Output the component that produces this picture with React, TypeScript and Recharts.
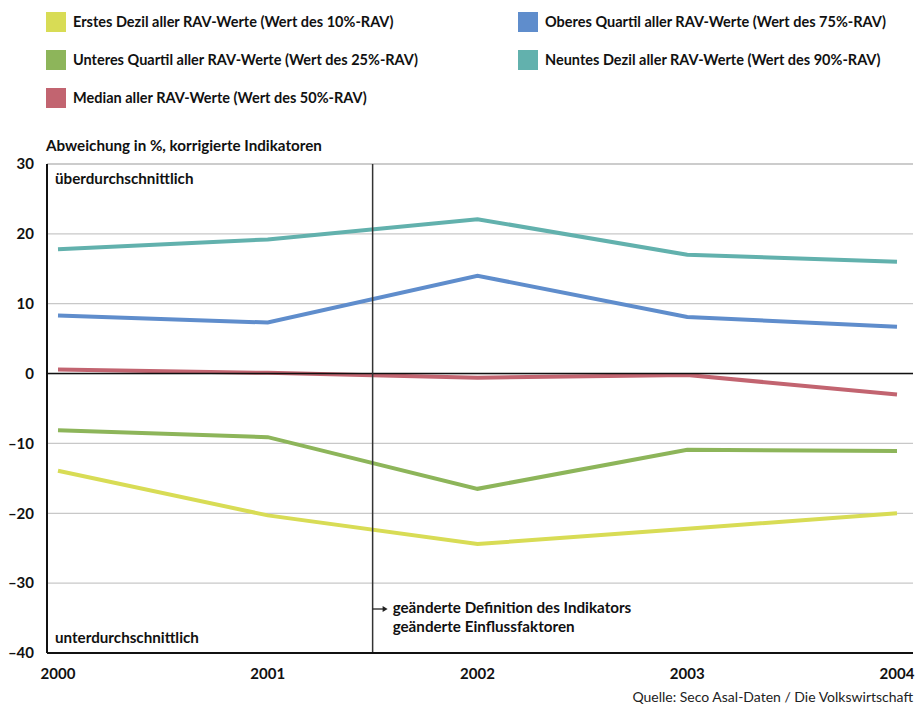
import React from "react";
import {
  LineChart,
  Line,
  XAxis,
  YAxis,
  CartesianGrid,
  ReferenceLine,
} from "recharts";

const years = [2000, 2001, 2002, 2003, 2004];
const p10 = [-13.9, -20.3, -24.4, -22.2, -20.0];
const p25 = [-8.1, -9.1, -16.5, -10.9, -11.1];
const p50 = [0.6, 0.1, -0.6, -0.2, -3.0];
const p75 = [8.3, 7.3, 14.0, 8.1, 6.7];
const p90 = [17.8, 19.2, 22.1, 17.0, 16.0];
const yTicks = [-40, -30, -20, -10, 0, 10, 20, 30];
const breakYear = 2001.5;

const seriesNames = {
  p10: "Erstes Dezil aller RAV-Werte (Wert des 10%-RAV)",
  p25: "Unteres Quartil aller RAV-Werte (Wert des 25%-RAV)",
  p50: "Median aller RAV-Werte (Wert des 50%-RAV)",
  p75: "Oberes Quartil aller RAV-Werte (Wert des 75%-RAV)",
  p90: "Neuntes Dezil aller RAV-Werte (Wert des 90%-RAV)",
};
const colors = {
  p10: "#d8dc55",
  p25: "#8db55a",
  p50: "#c26470",
  p75: "#5f8dcc",
  p90: "#62b1ad",
};
const legendOrder = ["p10", "p25", "p50", "p75", "p90"];

const data = years.map((year, i) => ({
  year,
  p10: p10[i],
  p25: p25[i],
  p50: p50[i],
  p75: p75[i],
  p90: p90[i],
}));

const FONT = "Lato, 'DejaVu Sans', sans-serif";
const NOTE = 15.2;

const topLabel = (props: any) => {
  const vb = props.viewBox || {};
  return (
    <text x={vb.x + 8} y={vb.y + 16} dominantBaseline="middle" fontFamily={FONT} fontWeight={700} fontSize={NOTE} fill="#111">
      überdurchschnittlich
    </text>
  );
};
const bottomLabel = (props: any) => {
  const vb = props.viewBox || {};
  return (
    <text x={vb.x + 8} y={vb.y - 14} dominantBaseline="middle" fontFamily={FONT} fontWeight={700} fontSize={NOTE} fill="#111">
      unterdurchschnittlich
    </text>
  );
};
const breakLabel = (props: any) => {
  const vb = props.viewBox || {};
  const x = vb.x;
  const yb = vb.y + vb.height;
  const ya = yb - 44;
  return (
    <g>
      <line x1={x} x2={x + 11} y1={ya} y2={ya} stroke="#222" strokeWidth={1.3} />
      <polygon points={`${x + 15},${ya} ${x + 10},${ya - 3} ${x + 10},${ya + 3}`} fill="#222" />
      <text x={x + 20} y={ya} dominantBaseline="middle" fontFamily={FONT} fontWeight={700} fontSize={NOTE} fill="#111">
        geänderte Definition des Indikators
      </text>
      <text x={x + 20} y={ya + 19} dominantBaseline="middle" fontFamily={FONT} fontWeight={700} fontSize={NOTE} fill="#111">
        geänderte Einflussfaktoren
      </text>
    </g>
  );
};

export default function App() {
  return (
    <div style={{ position: "absolute", left: 0, top: 0, width: 918, height: 707, background: "#fff", fontFamily: FONT }}>
      <div
        style={{
          position: "absolute",
          left: 46,
          top: 12,
          display: "grid",
          gridTemplateRows: "repeat(3, 38px)",
          gridAutoFlow: "column",
          gridTemplateColumns: "472px 400px",
        }}
      >
        {legendOrder.map((k) => (
          <div key={k} style={{ display: "flex", alignItems: "flex-start", height: 38 }}>
            <div style={{ width: 20, height: 20, background: (colors as any)[k], flex: "none" }} />
            <div style={{ marginLeft: 7, fontSize: 14.5, fontWeight: 700, color: "#111", lineHeight: "20px", whiteSpace: "nowrap" }}>
              {(seriesNames as any)[k]}
            </div>
          </div>
        ))}
      </div>
      <div style={{ position: "absolute", left: 46, top: 135, fontSize: NOTE, fontWeight: 700, color: "#111", lineHeight: "20px", whiteSpace: "nowrap" }}>
        Abweichung in %, korrigierte Indikatoren
      </div>
      <div style={{ position: "absolute", top: 0, left: 0 }}>
        <LineChart width={918} height={707} data={data} margin={{ top: 164, right: 5, bottom: 24, left: 0 }}>
          <CartesianGrid vertical={false} stroke="#c8c8c8" strokeWidth={1.3} />
          <XAxis
            dataKey="year"
            type="number"
            domain={[2000, 2004]}
            ticks={years}
            height={30}
            padding={{ left: 11, right: 16 }}
            tickLine={false}
            tickSize={0}
            tickMargin={15}
            axisLine={{ stroke: "#111", strokeWidth: 2 }}
            tick={{ fill: "#111", fontSize: 15, fontWeight: 700, fontFamily: FONT }}
          />
          <YAxis
            type="number"
            domain={[-40, 30]}
            ticks={yTicks}
            width={47}
            tickLine={false}
            tickSize={0}
            tickMargin={13}
            axisLine={{ stroke: "#111", strokeWidth: 2 }}
            tick={{ fill: "#111", fontSize: 15, fontWeight: 700, fontFamily: FONT }}
            tickFormatter={(v: number) => (v < 0 ? "\u2013" + Math.abs(v) : String(v))}
          />
          <ReferenceLine y={30} stroke="#c8c8c8" strokeWidth={1.3} label={topLabel} />
          <ReferenceLine y={-40} stroke="none" label={bottomLabel} />
          {legendOrder.map((k) => (
            <Line
              key={k}
              dataKey={k}
              type="linear"
              stroke={(colors as any)[k]}
              strokeWidth={4}
              dot={false}
              activeDot={false}
              isAnimationActive={false}
            />
          ))}
          <ReferenceLine y={0} stroke="#111" strokeWidth={1.5} />
          <ReferenceLine x={breakYear} stroke="#333" strokeWidth={1.5} label={breakLabel} />
        </LineChart>
      </div>
      <div style={{ position: "absolute", right: 5, top: 688, fontSize: 14, color: "#222", whiteSpace: "nowrap" }}>
        Quelle: Seco Asal-Daten / Die Volkswirtschaft
      </div>
    </div>
  );
}
